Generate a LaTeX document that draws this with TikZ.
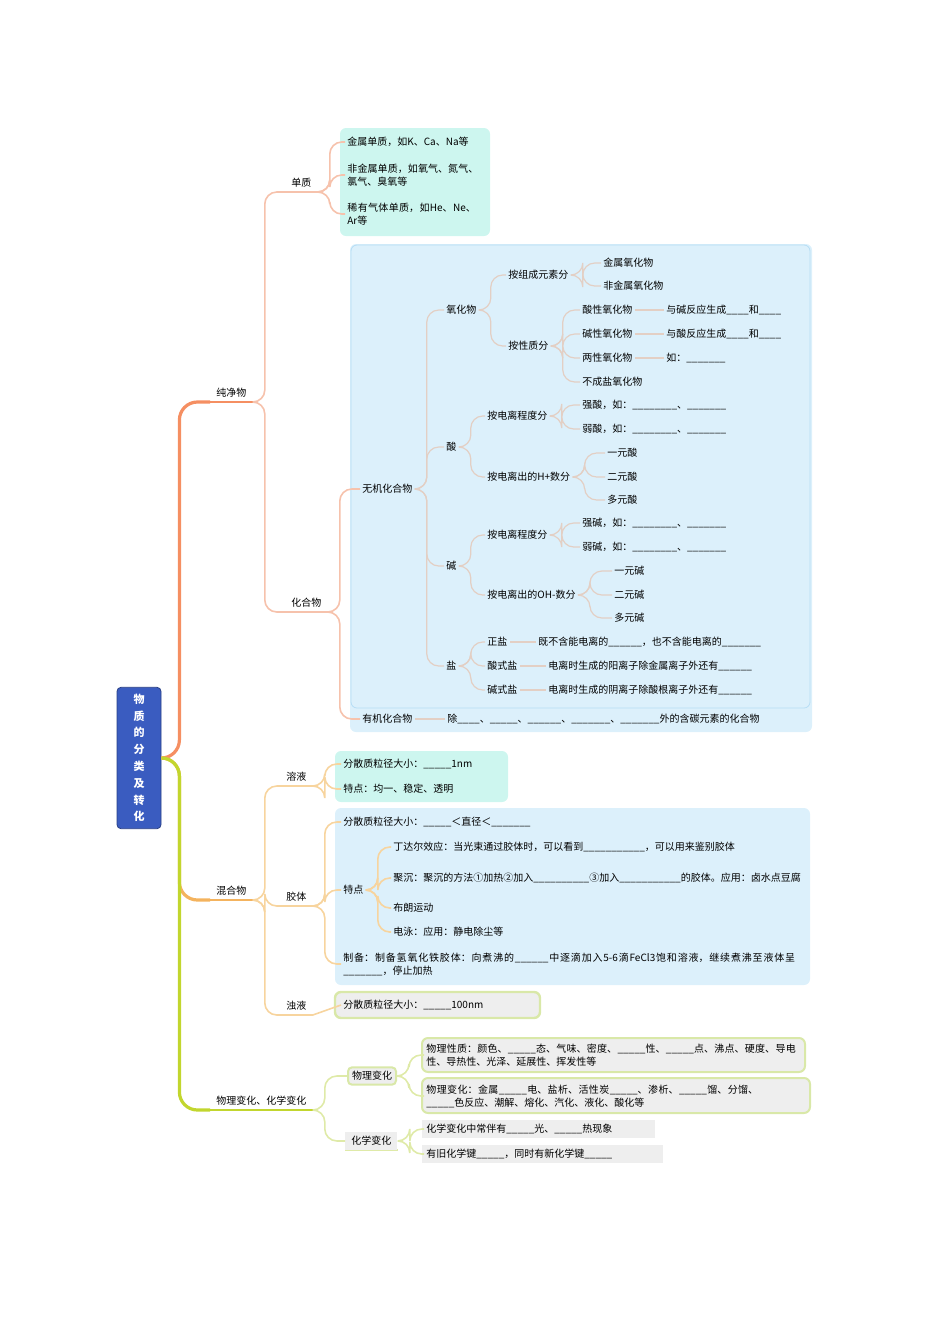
\documentclass[tikz,border=0pt]{standalone}
\usepackage{fontspec}
\setmainfont{Noto Sans CJK SC}
\XeTeXlinebreaklocale "zh"
\XeTeXlinebreakskip=0pt plus 1pt
\definecolor{rootblue}{HTML}{3A5CC0}
\definecolor{cyanbox}{HTML}{CDF6EF}
\definecolor{bluebox}{HTML}{DCF0FB}
\definecolor{blueline}{HTML}{B5DDF5}
\definecolor{graybox}{HTML}{EEEEEE}
\definecolor{greenedge}{HTML}{D9E8A8}
\definecolor{pureA}{HTML}{F58F62}
\definecolor{pureB}{HTML}{F6C2AC}
\definecolor{pureC}{HTML}{E3CFC4}
\definecolor{mixA}{HTML}{F4B35E}
\definecolor{mixB}{HTML}{F7D49E}
\definecolor{chgA}{HTML}{C2D62E}
\definecolor{chgB}{HTML}{DFEAA8}

\begin{document}
\begin{tikzpicture}[x=0.5pt,y=-0.5pt,font=\fontsize{5}{6.5}\selectfont]
\tikzset{
  ul/.style={anchor=south west,inner xsep=3pt,inner ysep=2pt,
    append after command={\pgfextra{\draw[#1,line width=1pt]
      (\tikzlastnode.south west) -- (\tikzlastnode.south east);}}},
  lf/.style={anchor=west,inner sep=1pt},
  lfw/.style={anchor=west,inner sep=1pt,text width=#1,align=left},
  bend/.style 2 args={to path={[rounded corners=#2] (\tikztostart) -- ++(#1,0) |- (\tikztotarget)}},
  la/.style={pureA,line width=1.6pt,bend={18}{9pt}},
  lb/.style={pureB,line width=0.8pt,bend={12}{6pt}},
  lc/.style={pureC,line width=0.6pt,bend={12}{6pt}},
  ma/.style={mixA,line width=1.6pt,bend={18}{9pt}},
  mb/.style={mixB,line width=0.8pt,bend={12}{6pt}},
  ca/.style={chgA,line width=1.6pt,bend={18}{9pt}},
  cb/.style={chgB,line width=0.8pt,bend={12}{6pt}},
  box/.style={rounded corners=3pt}
}
\useasboundingbox (0,0) rectangle (950,1344);

% boxes
\fill[box,cyanbox] (340,128) rectangle (490,236);
\fill[box,bluebox] (350,244) rectangle (812,732);
\draw[box,blueline,fill=bluebox] (351,245) rectangle (810,708);
\fill[box,cyanbox] (335,751) rectangle (508,802);
\fill[box,bluebox] (335,808) rectangle (810,985);
\draw[box,greenedge,fill=graybox,line width=1.2pt] (335,992) rectangle (540,1018);
\draw[box,greenedge,fill=graybox,line width=1pt] (422,1038) rectangle (805,1072);
\draw[box,greenedge,fill=graybox,line width=1pt] (422,1078) rectangle (810,1113);
\fill[graybox] (422,1120) rectangle (655,1138);
\fill[graybox] (422,1145) rectangle (663,1163);

% root
\node[fill=rootblue,draw=rootblue!70!black,rounded corners=2pt,text=white,
  font=\fontsize{5.5}{8.4}\selectfont\bfseries,align=center,minimum width=22pt,
  minimum height=65pt] (root) at (139,758) {物\\质\\的\\分\\类\\及\\转\\化};

% pure substances
\node[ul=pureA] (pure) at (210,402) {纯净物};
\node[ul=pureB] (elem) at (285,192) {单质};
\node[ul=pureB] (comp) at (285,612) {化合物};
\node[lf] (e1) at (345,142) {金属单质，如K、Ca、Na等};
\node[lfw=66pt] (e2) at (345,175) {非金属单质，如氧气、氮气、氯气、臭氧等};
\node[lfw=66pt] (e3) at (345,214) {稀有气体单质，如He、Ne、Ar等};
\node[lf] (inorg) at (360,489) {无机化合物};
\node[lf] (org) at (360,719) {有机化合物};
\node[lf] (orgt) at (445,719) {除\_\_\_\_、\_\_\_\_\_、\_\_\_\_\_\_、\_\_\_\_\_\_\_、\_\_\_\_\_\_\_外的含碳元素的化合物};

\node[lf] (ox) at (444,310) {氧化物};
\node[lf] (acid) at (444,447) {酸};
\node[lf] (base) at (444,566) {碱};
\node[lf] (salt) at (444,666) {盐};

\node[lf] (oxa) at (506,275) {按组成元素分};
\node[lf] (oxb) at (506,346) {按性质分};
\node[lf] (oxa1) at (601,263) {金属氧化物};
\node[lf] (oxa2) at (601,286) {非金属氧化物};
\node[lf] (oxb1) at (580,310) {酸性氧化物};
\node[lf] (oxb2) at (580,334) {碱性氧化物};
\node[lf] (oxb3) at (580,358) {两性氧化物};
\node[lf] (oxb4) at (580,382) {不成盐氧化物};
\node[lf] (oxc1) at (664,310) {与碱反应生成\_\_\_\_和\_\_\_\_};
\node[lf] (oxc2) at (664,334) {与酸反应生成\_\_\_\_和\_\_\_\_};
\node[lf] (oxc3) at (664,358) {如：\_\_\_\_\_\_\_};

\node[lf] (aca) at (485,416) {按电离程度分};
\node[lf] (acb) at (485,477) {按电离出的H+数分};
\node[lf] (aca1) at (580,405) {强酸，如：\_\_\_\_\_\_\_\_、\_\_\_\_\_\_\_};
\node[lf] (aca2) at (580,429) {弱酸，如：\_\_\_\_\_\_\_\_、\_\_\_\_\_\_\_};
\node[lf] (acb1) at (605,453) {一元酸};
\node[lf] (acb2) at (605,477) {二元酸};
\node[lf] (acb3) at (605,500) {多元酸};

\node[lf] (baa) at (485,535) {按电离程度分};
\node[lf] (bab) at (485,595) {按电离出的OH-数分};
\node[lf] (baa1) at (580,523) {强碱，如：\_\_\_\_\_\_\_\_、\_\_\_\_\_\_\_};
\node[lf] (baa2) at (580,547) {弱碱，如：\_\_\_\_\_\_\_\_、\_\_\_\_\_\_\_};
\node[lf] (bab1) at (612,571) {一元碱};
\node[lf] (bab2) at (612,595) {二元碱};
\node[lf] (bab3) at (612,618) {多元碱};

\node[lf] (sa1) at (485,642) {正盐};
\node[lf] (sa2) at (485,666) {酸式盐};
\node[lf] (sa3) at (485,690) {碱式盐};
\node[lf] (sb1) at (536,642) {既不含能电离的\_\_\_\_\_\_，也不含能电离的\_\_\_\_\_\_\_};
\node[lf] (sb2) at (546,666) {电离时生成的阳离子除金属离子外还有\_\_\_\_\_\_};
\node[lf] (sb3) at (546,690) {电离时生成的阴离子除酸根离子外还有\_\_\_\_\_\_};

% mixtures
\node[ul=mixA] (mix) at (210,900) {混合物};
\node[ul=mixB] (sol) at (280,786) {溶液};
\node[ul=mixB] (col) at (280,906) {胶体};
\node[ul=mixB] (sus) at (280,1015) {浊液};
\node[lf] (sol1) at (341,764) {分散质粒径大小：\_\_\_\_\_1nm};
\node[lf] (sol2) at (341,789) {特点：均一、稳定、透明};
\node[lf] (col1) at (341,822) {分散质粒径大小：\_\_\_\_\_＜直径＜\_\_\_\_\_\_\_};
\node[lf] (colf) at (341,890) {特点};
\node[lf] (colf1) at (391,847) {丁达尔效应：当光束通过胶体时，可以看到\_\_\_\_\_\_\_\_\_\_\_，可以用来鉴别胶体};
\node[lfw=204pt] (colf2) at (391,878) {聚沉：聚沉的方法①加热②加入\_\_\_\_\_\_\_\_\_\_③加入\_\_\_\_\_\_\_\_\_\_\_的胶体。应用：卤水点豆腐};
\node[lf] (colf3) at (391,908) {布朗运动};
\node[lf] (colf4) at (391,932) {电泳：应用：静电除尘等};
\node[lfw=230pt] (col3) at (341,964) {制备：制备氢氧化铁胶体：向煮沸的\_\_\_\_\_\_中逐滴加入5-6滴FeCl3饱和溶液，继续煮沸至液体呈\_\_\_\_\_\_\_，停止加热};
\node[lf] (sus1) at (341,1005) {分散质粒径大小：\_\_\_\_\_100nm};

% changes
\node[ul=chgA] (chg) at (210,1110) {物理变化、化学变化};
\node[draw=greenedge,fill=graybox,line width=1pt,rounded corners=2pt,inner sep=2pt] (phy) at (372,1076) {物理变化};
\node[ul=chgB,fill=graybox] (che) at (345,1150) {化学变化};
\node[lfw=186pt] (phy1) at (424,1055) {物理性质：颜色、\_\_\_\_\_态、气味、密度、\_\_\_\_\_性、\_\_\_\_\_点、沸点、硬度、导电性、导热性、光泽、延展性、挥发性等};
\node[lfw=168pt] (phy2) at (424,1096) {物理变化：金属\_\_\_\_\_电、盐析、活性炭\_\_\_\_\_、渗析、\_\_\_\_\_馏、分馏、\_\_\_\_\_色反应、潮解、熔化、汽化、液化、酸化等};
\node[lf] (che1) at (424,1129) {化学变化中常伴有\_\_\_\_\_光、\_\_\_\_\_热现象};
\node[lf] (che2) at (424,1154) {有旧化学键\_\_\_\_\_，同时有新化学键\_\_\_\_\_};

% connectors
\draw[la] (root.east) to (pure.south west);
\draw[ma] (root.east) to (mix.south west);
\draw[ca] (root.east) to (chg.south west);
\foreach \c in {elem,comp} \draw[lb] (pure.south east) to (\c.south west);
\foreach \c in {e1,e2,e3} \draw[lb] (elem.south east) to (\c.west);
\foreach \c in {inorg,org} \draw[lb] (comp.south east) to (\c.west);
\draw[lc] (org.east) -- (orgt.west);
\foreach \c in {ox,acid,base,salt} \draw[lc] (inorg.east) to (\c.west);
\foreach \c in {oxa,oxb} \draw[lc] (ox.east) to (\c.west);
\foreach \c in {oxa1,oxa2} \draw[lc] (oxa.east) to (\c.west);
\foreach \c in {oxb1,oxb2,oxb3,oxb4} \draw[lc] (oxb.east) to (\c.west);
\foreach \a/\b in {oxb1/oxc1,oxb2/oxc2,oxb3/oxc3} \draw[lc] (\a.east) -- (\b.west);
\foreach \c in {aca,acb} \draw[lc] (acid.east) to (\c.west);
\foreach \c in {aca1,aca2} \draw[lc] (aca.east) to (\c.west);
\foreach \c in {acb1,acb2,acb3} \draw[lc] (acb.east) to (\c.west);
\foreach \c in {baa,bab} \draw[lc] (base.east) to (\c.west);
\foreach \c in {baa1,baa2} \draw[lc] (baa.east) to (\c.west);
\foreach \c in {bab1,bab2,bab3} \draw[lc] (bab.east) to (\c.west);
\foreach \c in {sa1,sa2,sa3} \draw[lc] (salt.east) to (\c.west);
\foreach \a/\b in {sa1/sb1,sa2/sb2,sa3/sb3} \draw[lc] (\a.east) -- (\b.west);
\foreach \c in {sol,col,sus} \draw[mb] (mix.south east) to (\c.south west);
\foreach \c in {sol1,sol2} \draw[mb] (sol.south east) to (\c.west);
\foreach \c in {col1,colf,col3} \draw[mb] (col.south east) to (\c.west);
\foreach \c in {colf1,colf2,colf3,colf4} \draw[mb] (colf.east) to (\c.west);
\draw[mb] (sus.south east) -- (sus1.west);
\foreach \c in {phy,che} \draw[cb] (chg.south east) to (\c.west);
\foreach \c in {phy1,phy2} \draw[cb] (phy.east) to (\c.west);
\foreach \c in {che1,che2} \draw[cb] (che.east) to (\c.west);
\end{tikzpicture}
\end{document}
